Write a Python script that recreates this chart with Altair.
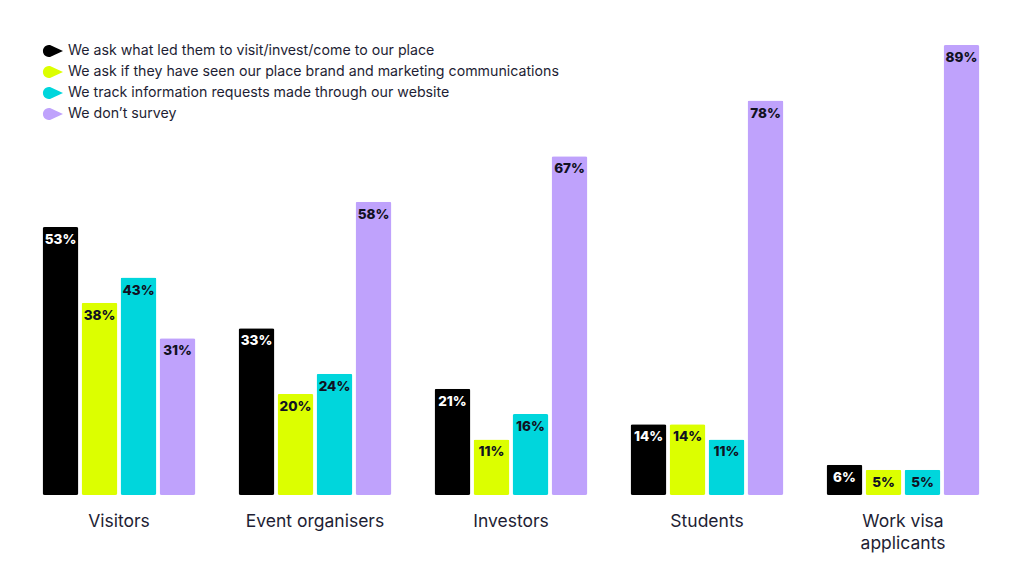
import altair as alt
import pandas as pd

categories = ["Visitors", "Event organisers", "Investors", "Students", "Work visa applicants"]
series = [
    "We ask what led them to visit/invest/come to our place",
    "We ask if they have seen our place brand and marketing communications",
    "We track information requests made through our website",
    "We don\u2019t survey",
]
values = {
    series[0]: [53, 33, 21, 14, 6],
    series[1]: [38, 20, 11, 14, 5],
    series[2]: [43, 24, 16, 11, 5],
    series[3]: [31, 58, 67, 78, 89],
}
colors = ["#000000", "#dcff00", "#00d6dc", "#bfa2fc"]

rows = []
for s in series:
    for c, v in zip(categories, values[s]):
        rows.append({"category": c, "series": s, "value": v, "label": f"{v}%"})
df = pd.DataFrame(rows)

shape = "M1,0 L-0.3,-0.59 A0.6,0.6 0 1 0 -0.3,0.59 Z"

x = alt.X(
    "category:N",
    sort=categories,
    title=None,
    scale=alt.Scale(paddingInner=0.22, paddingOuter=0.11),
    axis=alt.Axis(
        domain=False,
        ticks=False,
        labelAngle=0,
        labelFontSize=17.5,
        labelFont="Inter",
        labelColor="#1e1e34",
        labelPadding=17,
        labelLineHeight=22,
        labelExpr="datum.value == 'Work visa applicants' ? ['Work visa', 'applicants'] : datum.value",
    ),
)
xoff = alt.XOffset("series:N", sort=series, scale=alt.Scale(paddingInner=0.08))
y = alt.Y("value:Q", scale=alt.Scale(domain=[0, 89], nice=False), axis=None)

bars = alt.Chart(df).mark_bar(cornerRadius=2).encode(
    x=x,
    xOffset=xoff,
    y=y,
    color=alt.Color(
        "series:N",
        sort=series,
        scale=alt.Scale(domain=series, range=colors),
        legend=alt.Legend(
            title=None,
            orient="none",
            legendX=22,
            legendY=-4,
            symbolType=shape,
            symbolSize=400,
            symbolStrokeWidth=0,
            labelFont="Inter",
            labelFontSize=14.2,
            labelColor="#1e1e34",
            labelLimit=700,
            rowPadding=3,
            labelOffset=5,
        ),
    ),
)

text = alt.Chart(df).mark_text(
    baseline="top", dy=6, font="Inter", fontWeight=800, fontSize=13.5
).encode(
    x=x,
    xOffset=xoff,
    y=y,
    text="label:N",
    color=alt.condition(
        alt.datum.series == series[0], alt.value("#ffffff"), alt.value("#111122")
    ),
)

chart = (
    alt.layer(bars, text)
    .properties(
        width=980,
        height=450,
        autosize=alt.AutoSizeParams(type="none"),
        padding={"left": 21, "top": 45, "right": 23, "bottom": 77},
    )
    .configure_view(stroke=None)
)

chart.save("out.html", embed_options={"renderer": "svg", "actions": False})
